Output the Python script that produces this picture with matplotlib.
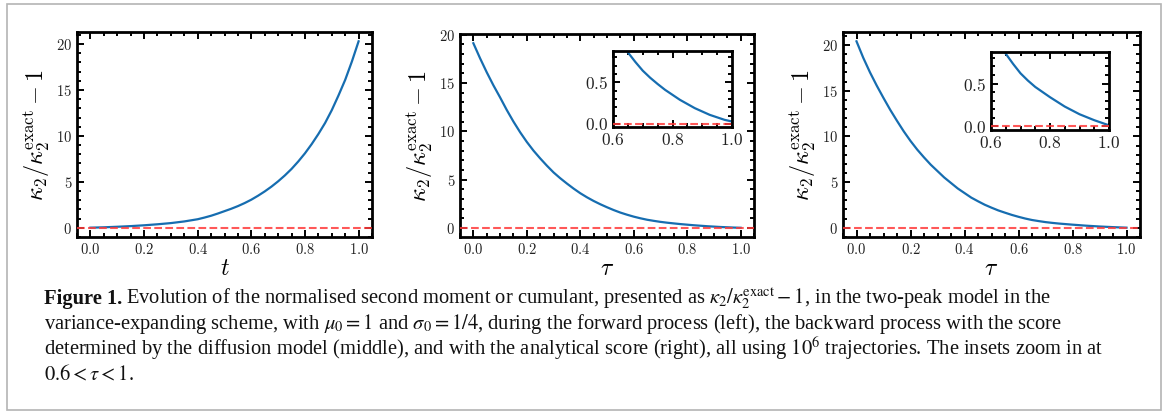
import numpy as np
import matplotlib
matplotlib.use("Agg")
import matplotlib.pyplot as plt
from matplotlib.ticker import MultipleLocator
from matplotlib.patches import Rectangle

grid = [0.0, 0.025, 0.05, 0.075, 0.10, 0.125, 0.15, 0.175, 0.20, 0.225,
        0.25, 0.275, 0.30, 0.325, 0.35, 0.375, 0.40, 0.425, 0.45, 0.475,
        0.50, 0.525, 0.55, 0.575, 0.60, 0.625, 0.65, 0.675, 0.70, 0.725,
        0.75, 0.775, 0.80, 0.825, 0.85, 0.875, 0.90, 0.925, 0.95, 0.975, 1.0]
forward = [0.0, 0.02, 0.04, 0.07, 0.10, 0.135, 0.17, 0.215, 0.26, 0.315,
           0.37, 0.435, 0.50, 0.59, 0.68, 0.80, 0.92, 1.10, 1.30, 1.54,
           1.80, 2.06, 2.35, 2.68, 3.05, 3.48, 3.95, 4.47, 5.05, 5.69,
           6.40, 7.21, 8.10, 9.10, 10.2, 11.4, 12.8, 14.4, 16.1, 18.1, 20.3]
backward_model = [19.1, 17.55, 16.1, 14.75, 13.5, 12.2, 11.0, 9.9, 8.9, 8.0,
                  7.2, 6.45, 5.75, 5.15, 4.6, 4.08, 3.6, 3.18, 2.8, 2.46,
                  2.15, 1.86, 1.6, 1.38, 1.18, 1.01, 0.86, 0.745, 0.64, 0.555,
                  0.48, 0.41, 0.35, 0.29, 0.24, 0.19, 0.15, 0.11, 0.08, 0.05,
                  0.03]
backward_exact = [20.4, 18.6, 17.0, 15.55, 14.2, 12.9, 11.7, 10.55, 9.5, 8.55,
                  7.7, 6.9, 6.2, 5.5, 4.9, 4.3, 3.8, 3.3, 2.9, 2.52,
                  2.2, 1.9, 1.65, 1.41, 1.2, 1.01, 0.85, 0.73, 0.62, 0.535,
                  0.46, 0.40, 0.34, 0.285, 0.23, 0.185, 0.14, 0.105, 0.07,
                  0.04, 0.01]

xlabels = ['$t$', r'$\tau$', r'$\tau$']
ylabel = r'$\kappa_2/\kappa_2^{\mathrm{exact}} - 1$'

plt.rcParams['font.family'] = 'serif'
plt.rcParams['font.serif'] = ['cmr10', 'DejaVu Serif']
plt.rcParams['mathtext.fontset'] = 'cm'
plt.rcParams['axes.formatter.use_mathtext'] = True
plt.rcParams['axes.linewidth'] = 2.0

W, H = 1165, 412
fig = plt.figure(figsize=(W / 100, H / 100), dpi=100)

blue = '#166db0'
red = '#ff3b3b'


def px_axes(l, r, t, b):
    return fig.add_axes([l / W, 1 - b / H, (r - l) / W, (b - t) / H])


def style(ax, size):
    ax.tick_params(which='both', direction='in', top=True, right=True,
                   labelsize=size, labelcolor='#222222', width=1.4)
    ax.tick_params(which='major', length=5)
    ax.tick_params(which='minor', length=2.8)


def draw(ax, y):
    ax.plot(grid, y, color=blue, lw=1.6)
    ax.axhline(0, color=red, ls='--', lw=1.5, alpha=0.85, zorder=3)


boxes = [(77, 372, 32, 237), (460, 754, 34, 237), (843, 1140, 32, 237)]
series = [forward, backward_model, backward_exact]
for (l, r, t, b), y, xl in zip(boxes, series, xlabels):
    ax = px_axes(l, r, t, b)
    draw(ax, y)
    ax.set_xlim(-0.05, 1.05)
    ax.xaxis.set_major_locator(MultipleLocator(0.2))
    ax.xaxis.set_minor_locator(MultipleLocator(0.05))
    ax.yaxis.set_major_locator(MultipleLocator(5))
    ax.yaxis.set_minor_locator(MultipleLocator(1))
    style(ax, 10.5)
    ax.set_xlabel(xl, fontsize=17, labelpad=1)
    ax.set_ylabel(ylabel, fontsize=17.5, labelpad=3)

# insets 0.6 < tau < 1
insets = [((613, 732, 51, 127), backward_model, (-0.036, 0.876)),
          ((991, 1109, 52, 130), backward_exact, (-0.045, 0.87))]
for (l, r, t, b), y, yl in insets:
    ax = px_axes(l, r, t, b)
    draw(ax, y)
    ax.set_xlim(0.6, 1.0)
    ax.set_ylim(*yl)
    ax.xaxis.set_major_locator(MultipleLocator(0.2))
    ax.xaxis.set_minor_locator(MultipleLocator(0.05))
    ax.yaxis.set_major_locator(MultipleLocator(0.5))
    ax.yaxis.set_minor_locator(MultipleLocator(0.1))
    style(ax, 12.5)

# caption
cap = dict(family='Liberation Serif', size=14.8, math_fontfamily='stix',
           color='#111111', va='baseline')
lines = [
    r'Evolution of the normalised second moment or cumulant, presented as '
    r'$\kappa_2/\kappa_2^{\mathrm{exact}} - 1$, in the two-peak model in the',
    r'variance-expanding scheme, with $\mu_0 = 1$ and $\sigma_0 = 1/4$, during '
    r'the forward process (left), the backward process with the score',
    r'determined by the diffusion model (middle), and with the analytical '
    r'score (right), all using $10^6$ trajectories. The insets zoom in at',
    r'$0.6 < \tau < 1$.',
]
x0 = 44
baselines = [304, 329.5, 355, 380.5]
head = fig.text(x0 / W, 1 - baselines[0] / H, 'Figure 1.', weight='bold', **cap)
fig.canvas.draw()
hb = head.get_window_extent(fig.canvas.get_renderer())
fig.text((hb.x1 + 4) / W, 1 - baselines[0] / H, lines[0], **cap)
for yb, s in zip(baselines[1:], lines[1:]):
    fig.text(x0 / W, 1 - yb / H, s, **cap)

fig.patches.append(Rectangle((7 / W, 1 - 410 / H), 1154 / W, 406 / H,
                             transform=fig.transFigure, fill=False,
                             ec='#b4b4b4', lw=1.2))

fig.savefig('out.png', dpi=100)
